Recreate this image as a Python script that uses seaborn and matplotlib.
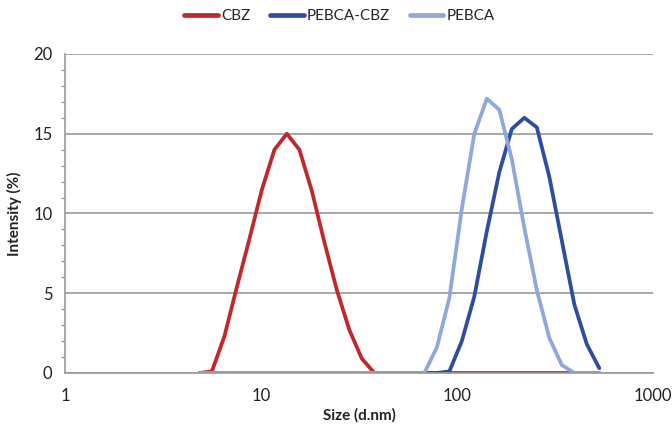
import numpy as np
import pandas as pd
import matplotlib
matplotlib.use("Agg")
import matplotlib.pyplot as plt
from matplotlib.ticker import FixedLocator, NullLocator, MultipleLocator
import seaborn as sns

# size bins (d.nm) as exported by the instrument
sizes = [4.849, 5.615, 6.503, 7.531, 8.721, 10.1, 11.7, 13.54, 15.69, 18.17,
         21.04, 24.36, 28.21, 32.67, 37.84, 43.82, 50.75, 58.77, 68.06, 78.82,
         91.28, 105.7, 122.4, 141.8, 164.2, 190.1, 220.2, 255.0, 295.3, 342.0,
         396.1, 458.7, 531.2]

cbz = [0, 0.1, 2.3, 5.4, 8.4, 11.5, 14.0, 15.0, 14.0, 11.4,
       8.2, 5.2, 2.7, 0.9, 0, 0, 0, 0, 0, 0,
       0, 0, 0, 0, 0, 0, 0, 0, 0, 0,
       0, 0, 0]

pebca_cbz = [0, 0, 0, 0, 0, 0, 0, 0, 0, 0,
             0, 0, 0, 0, 0, 0, 0, 0, 0, 0,
             0.1, 2.0, 4.8, 8.9, 12.6, 15.3, 16.0, 15.4, 12.3, 8.3,
             4.3, 1.8, 0.3]

pebca = [0, 0, 0, 0, 0, 0, 0, 0, 0, 0,
         0, 0, 0, 0, 0, 0, 0, 0, 0, 1.6,
         4.7, 10.3, 15.0, 17.2, 16.5, 13.4, 9.1, 5.2, 2.2, 0.5,
         0, 0, 0]

series_names = ["CBZ", "PEBCA-CBZ", "PEBCA"]
series_colors = ["#C1272D", "#2E4DA0", "#8EA8DB"]

df = pd.concat([
    pd.DataFrame({"size": sizes, "intensity": vals, "sample": name})
    for name, vals in zip(series_names, [cbz, pebca_cbz, pebca])
], ignore_index=True)

sns.set_style("white")
plt.rcParams['font.family'] = ['Lato', 'DejaVu Sans']

fig = plt.figure(figsize=(6.72, 4.33), dpi=100)
ax = fig.add_axes([0.0967, 0.1386, 0.8753, 0.7367])

sns.lineplot(data=df, x="size", y="intensity", hue="sample",
             hue_order=series_names, palette=series_colors,
             linewidth=2.7, ax=ax, legend=False, sort=False,
             solid_capstyle="round", solid_joinstyle="round")

ax.set_xscale("log")
ax.set_xlim(1, 1000)
ax.set_ylim(0, 20)

ax.xaxis.set_major_locator(FixedLocator([1, 10, 100, 1000]))
ax.set_xticklabels(["1", "10", "100", "1000"])
ax.xaxis.set_minor_locator(NullLocator())
ax.yaxis.set_major_locator(MultipleLocator(5))
ax.yaxis.set_minor_locator(MultipleLocator(1))

grid_col = "#9a9a9a"
ax.grid(axis="y", which="major", color=grid_col, linewidth=1.2)
ax.grid(axis="x", visible=False)
ax.set_axisbelow(True)

for side in ["top", "right"]:
    ax.spines[side].set_visible(False)
for side in ["left", "bottom"]:
    ax.spines[side].set_color(grid_col)
    ax.spines[side].set_linewidth(1.2)

ax.tick_params(axis="both", which="major", direction="out", length=5,
               color=grid_col, width=1.0, labelsize=12, labelcolor="#222222")
ax.tick_params(axis="y", which="minor", direction="out", length=3,
               color=grid_col, width=1.0, left=True)
ax.tick_params(axis="x", which="major", pad=6)
ax.tick_params(axis="y", which="major", pad=4)

ax.set_xlabel("Size (d.nm)", fontsize=11, fontweight="bold", labelpad=3,
              color="#222222")
ax.set_ylabel("Intensity (%)", fontsize=11, fontweight="bold", labelpad=8,
              color="#222222")

handles = [plt.Line2D([0], [0], color=c, linewidth=3.4, solid_capstyle="round")
           for c in series_colors]
fig.legend(handles, series_names, loc="center", bbox_to_anchor=(0.505, 0.963),
           ncol=3, frameon=False, fontsize=11, handlelength=2.2,
           handletextpad=0.2, columnspacing=1.3)

fig.savefig("out.png", dpi=100)
